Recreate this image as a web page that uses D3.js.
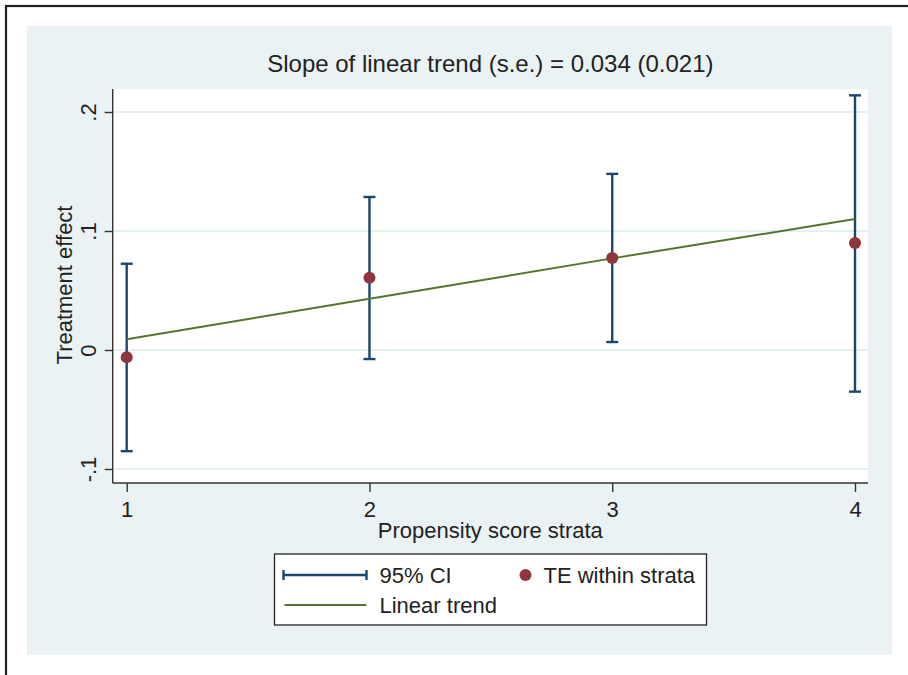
<!DOCTYPE html>
<html>
<head>
<meta charset="utf-8">
<script src="https://cdn.jsdelivr.net/npm/d3@7"></script>
<style>
  body { margin: 0; background: #fff; }
  text { font-family: "Liberation Sans", Arial, Helvetica, sans-serif; fill: #222; }
</style>
</head>
<body>
<div id="chart"></div>
<script>
// data
var strata = [1, 2, 3, 4];
var teValues = [-0.006, 0.0608, 0.0773, 0.090];   // TE within strata
var ciLow = [-0.085, -0.0076, 0.0067, -0.035];
var ciHigh = [0.0725, 0.1286, 0.148, 0.214];
var trendValues = [0.009, 0.043, 0.077, 0.110];  // linear trend
var yTicks = [-0.1, 0, 0.1, 0.2];
var yTickLabels = ["-.1", "0", ".1", ".2"];
var titleText = "Slope of linear trend (s.e.) = 0.034 (0.021)";

var w = 908, h = 675;

var navy = "#1a476f",
    maroon = "#90353b",
    green = "#55752f",
    panel = "#eaf2f3";

var svg = d3.select("#chart")
    .append("svg")
    .attr("width", w)
    .attr("height", h);

// outer frame (cropped at right and bottom)
svg.append("rect")
    .attr("x", 6).attr("y", 6)
    .attr("width", 1000).attr("height", 1000)
    .attr("fill", "#fff")
    .attr("stroke", "#231f20")
    .attr("stroke-width", 2.2);

// graph region
svg.append("rect")
    .attr("x", 27).attr("y", 26)
    .attr("width", 865).attr("height", 629)
    .attr("fill", panel);

var x = d3.scaleLinear()
    .domain([1, 4])
    .range([126.7, 855]);

var y = d3.scaleLinear()
    .domain([-0.1, 0.2])
    .range([469, 112]);

// plot region
var plot = { left: 112.7, right: 868, top: 89, bottom: 483 };

svg.append("rect")
    .attr("x", plot.left).attr("y", plot.top)
    .attr("width", plot.right - plot.left)
    .attr("height", plot.bottom - plot.top)
    .attr("fill", "#fff");

// grid lines
svg.selectAll(".grid")
    .data(yTicks)
    .enter().append("line")
    .attr("class", "grid")
    .attr("x1", plot.left).attr("x2", plot.right)
    .attr("y1", function(d) { return y(d); })
    .attr("y2", function(d) { return y(d); })
    .attr("stroke", "#e6eff1")
    .attr("stroke-width", 2);

// y axis
var yAxis = d3.axisLeft(y)
    .tickValues(yTicks)
    .tickSize(8)
    .tickPadding(10)
    .tickFormat(function(d, i) { return yTickLabels[i]; });

var gy = svg.append("g")
    .attr("transform", "translate(" + plot.left + ",0)")
    .call(yAxis);
gy.select(".domain").remove();
gy.append("line")
    .attr("x1", 0).attr("x2", 0)
    .attr("y1", plot.top).attr("y2", plot.bottom)
    .attr("stroke", "#333").attr("stroke-width", 1.4);
gy.selectAll(".tick line").attr("stroke", "#333").attr("stroke-width", 1.4);
gy.selectAll(".tick text")
    .attr("font-size", 22)
    .attr("fill", "#222")
    .attr("text-anchor", "middle")
    .attr("dy", 0)
    .attr("x", 0)
    .attr("transform", "translate(-17,0) rotate(-90)");

// x axis
var xAxis = d3.axisBottom(x)
    .tickValues(strata)
    .tickSize(9)
    .tickPadding(4)
    .tickFormat(d3.format("d"));

var gx = svg.append("g")
    .attr("transform", "translate(0," + plot.bottom + ")")
    .call(xAxis);
gx.select(".domain").remove();
gx.append("line")
    .attr("x1", plot.left).attr("x2", plot.right)
    .attr("y1", 0).attr("y2", 0)
    .attr("stroke", "#333").attr("stroke-width", 1.4);
gx.selectAll(".tick line").attr("stroke", "#333").attr("stroke-width", 1.4);
gx.selectAll(".tick text")
    .attr("font-size", 22)
    .attr("fill", "#222")
    .attr("dy", 0)
    .attr("y", 34);

// axis titles
svg.append("text")
    .attr("x", (plot.left + plot.right) / 2)
    .attr("y", 538)
    .attr("text-anchor", "middle")
    .attr("font-size", 22)
    .text("Propensity score strata");

svg.append("text")
    .attr("transform", "translate(72,285) rotate(-90)")
    .attr("text-anchor", "middle")
    .attr("font-size", 22)
    .text("Treatment effect");

// title
svg.append("text")
    .attr("x", (plot.left + plot.right) / 2)
    .attr("y", 72)
    .attr("text-anchor", "middle")
    .attr("font-size", 24)
    .text(titleText);

// CI bars
var rows = strata.map(function(s, i) {
    return { s: s, te: teValues[i], lo: ciLow[i], hi: ciHigh[i], tr: trendValues[i] };
});

var ci = svg.append("g")
    .attr("stroke", navy)
    .attr("stroke-width", 2.4);

ci.selectAll(".bar")
    .data(rows)
    .enter().append("line")
    .attr("x1", function(d) { return x(d.s); })
    .attr("x2", function(d) { return x(d.s); })
    .attr("y1", function(d) { return y(d.lo); })
    .attr("y2", function(d) { return y(d.hi); });

ci.selectAll(".capHi")
    .data(rows)
    .enter().append("line")
    .attr("x1", function(d) { return x(d.s) - 6; })
    .attr("x2", function(d) { return x(d.s) + 6; })
    .attr("y1", function(d) { return y(d.hi); })
    .attr("y2", function(d) { return y(d.hi); });

ci.selectAll(".capLo")
    .data(rows)
    .enter().append("line")
    .attr("x1", function(d) { return x(d.s) - 6; })
    .attr("x2", function(d) { return x(d.s) + 6; })
    .attr("y1", function(d) { return y(d.lo); })
    .attr("y2", function(d) { return y(d.lo); });

// linear trend
var line = d3.line()
    .x(function(d) { return x(d.s); })
    .y(function(d) { return y(d.tr); });

svg.append("path")
    .datum(rows)
    .attr("d", line)
    .attr("fill", "none")
    .attr("stroke", green)
    .attr("stroke-width", 2);

// points
svg.selectAll(".pt")
    .data(rows)
    .enter().append("circle")
    .attr("cx", function(d) { return x(d.s); })
    .attr("cy", function(d) { return y(d.te); })
    .attr("r", 6)
    .attr("fill", maroon);

// legend
var lg = svg.append("g").attr("transform", "translate(274.5,554)");

lg.append("rect")
    .attr("width", 432).attr("height", 71)
    .attr("fill", "#fff")
    .attr("stroke", "#222")
    .attr("stroke-width", 1.3);

lg.append("line")
    .attr("x1", 9).attr("x2", 92).attr("y1", 21).attr("y2", 21)
    .attr("stroke", navy).attr("stroke-width", 2.4);
[9, 92].forEach(function(cx) {
    lg.append("line")
        .attr("x1", cx).attr("x2", cx).attr("y1", 16).attr("y2", 26)
        .attr("stroke", navy).attr("stroke-width", 2.4);
});
lg.append("text").attr("x", 105).attr("y", 29).attr("font-size", 22).text("95% CI");

lg.append("circle").attr("cx", 251).attr("cy", 21).attr("r", 6).attr("fill", maroon);
lg.append("text").attr("x", 269).attr("y", 29).attr("font-size", 22).text("TE within strata");

lg.append("line")
    .attr("x1", 10).attr("x2", 92).attr("y1", 51).attr("y2", 51)
    .attr("stroke", green).attr("stroke-width", 2);
lg.append("text").attr("x", 105).attr("y", 59).attr("font-size", 22).text("Linear trend");
</script>
</body>
</html>
